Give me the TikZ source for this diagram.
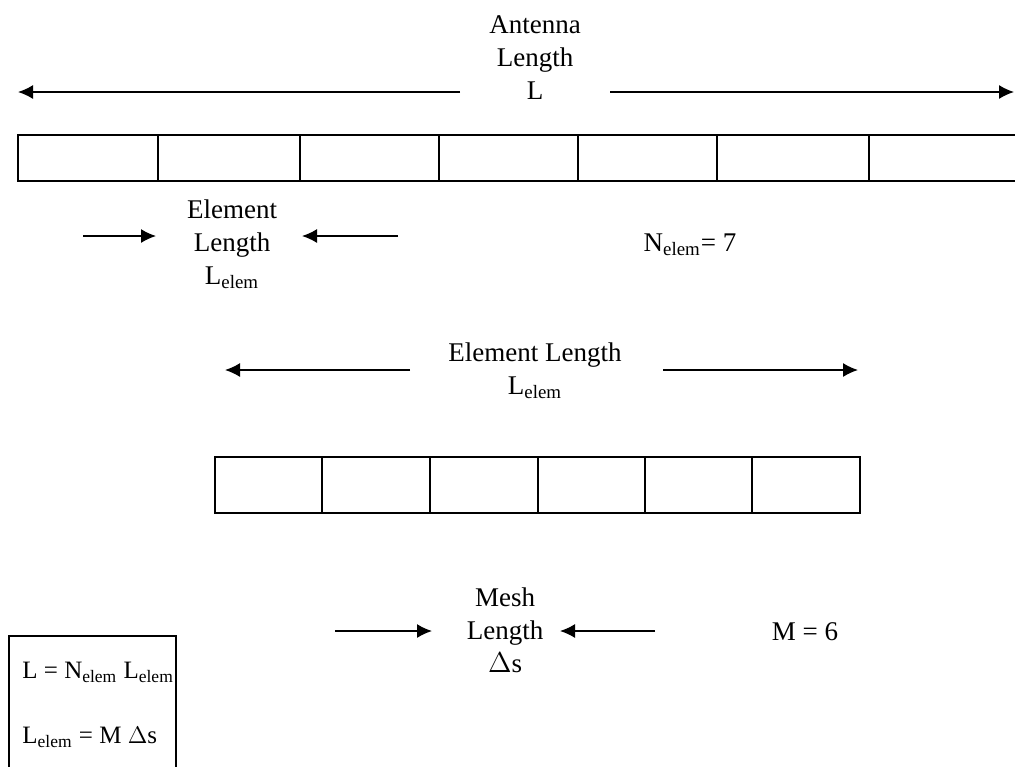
\documentclass[tikz,border=0pt]{standalone}
\usepackage{fontspec}
\setmainfont{Liberation Serif}
\usetikzlibrary{arrows.meta,positioning}
\newcommand{\sub}[1]{\textsubscript{#1}}
\begin{document}
\begin{tikzpicture}[>={Latex[length=7.5pt,width=7pt]},x=0.5pt,y=-0.5pt,
  every node/.style={align=center,inner sep=1pt,font=\fontsize{13.5}{16.5}\selectfont},
  eqn/.style={anchor=west,font=\fontsize{12.5}{16.5}\selectfont},
  arr/.style={->,line width=0.75pt},
  bar/.style={line width=1.4pt},
  cell/.style={line width=0.8pt}]
\useasboundingbox (0,0) rectangle (1015,766);
% labels
\node (ant) at (535,58) {Antenna\\Length\\L};
\node (elem) at (232,244) {Element\\Length\\L\sub{elem}};
\node (nel) at (690,245) {N\sub{elem}= 7};
\node (mel) at (535,371) {Element Length\\L\sub{elem}};
\node (mesh) at (505,630) {Mesh\\Length\\$\Delta$s};
\node (mm) at (805,632) {M = 6};
\node[eqn] (eq1) at (20,672) {L = N\sub{elem} L\sub{elem}};
\node[eqn] (eq2) at (20,737) {L\sub{elem} = M $\Delta$s};
% arrow ends
\foreach \n/\x/\y in {a1/460/92,a2/18/92,a3/610/92,a4/1014/92,
  e1/83/236,e2/156/236,e3/398/236,e4/302/236,
  m1/410/370,m2/225/370,m3/663/370,m4/858/370,
  s1/335/631,s2/432/631,s3/655/631,s4/560/631}
  \coordinate (\n) at (\x,\y);
\foreach \a/\b in {a1/a2,a3/a4,e1/e2,e3/e4,m1/m2,m3/m4,s1/s2,s3/s4}
  \draw[arr] (\a)--(\b);
% antenna bar
\draw[bar] (1016,135) -| (18,181) -- (1016,181);
\foreach \x in {158,300,439,578,717,869} \draw[cell] (\x,135)--(\x,181);
% element bar
\draw[bar] (215,457) rectangle (860,513);
\foreach \x in {322,430,538,645,752} \draw[cell] (\x,457)--(\x,513);
% formula box
\draw[line width=0.9pt] (9,770) |- (176,636) -- (176,770);
\end{tikzpicture}
\end{document}
